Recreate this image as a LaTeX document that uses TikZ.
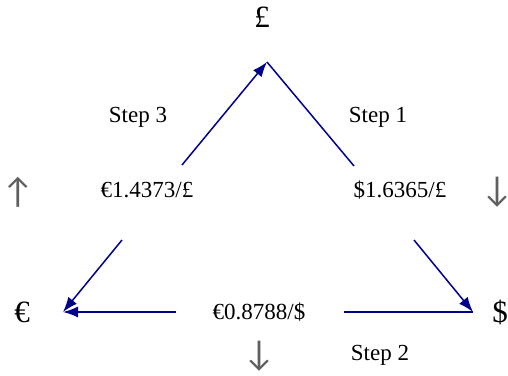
\documentclass[tikz,border=0pt]{standalone}
\usepackage{fontspec}
\setmainfont{Liberation Serif}
\newfontfamily\arrowfont{Lato}
\usetikzlibrary{arrows.meta}
\definecolor{navyline}{RGB}{0,0,139}
\definecolor{graytxt}{RGB}{95,95,95}
\begin{document}
\begin{tikzpicture}[x=1pt,y=-1pt,
  lbl/.style={font=\fontsize{23}{26}\selectfont, inner sep=0pt},
  cur/.style={font=\fontsize{31}{34}\selectfont, inner sep=0pt},
  dirarrow/.style={font=\arrowfont\fontsize{34}{36}\selectfont, inner sep=0pt, text=graytxt},
  conn/.style={draw=navyline, line width=1.5pt, -{Latex[length=15pt,width=11pt]}},
  plain/.style={draw=navyline, line width=1.5pt}]
\useasboundingbox (0,0) rectangle (508,375);
\node[cur] (gbp) at (262,17) {£};
\node[cur] (eur) at (22,312) {€};
\node[cur] (usd) at (500,312) {\$};
\coordinate (apex) at (267,62);
\coordinate (eurtip) at (63,312);
\coordinate (usdtip) at (473,312);
\coordinate (s3start) at (182,165);
\coordinate (s1end) at (354,166);
\coordinate (leftstart) at (122,240);
\coordinate (rightstart) at (414,240);
\coordinate (botleft) at (176,312);
\coordinate (botright) at (344,312);
\node[lbl] (step3) at (138,117) {Step 3};
\node[lbl] (step1) at (378,117) {Step 1};
\node[lbl] (step2) at (380,355) {Step 2};
\node[lbl] (r1) at (147,190) {€1.4373/£};
\node[lbl] (r2) at (400,190) {\$1.6365/£};
\node[lbl] (r3) at (259,312) {€0.8788/\$};
\node[dirarrow] (up1) at (18,192) {↑};
\node[dirarrow] (dn1) at (497,192) {↓};
\node[dirarrow] (dn2) at (259,356) {↓};
\draw[conn] (s3start) -- (apex);
\draw[plain] (apex) -- (s1end);
\draw[conn] (leftstart) -- (eurtip);
\draw[conn] (rightstart) -- (usdtip);
\draw[conn] (botleft) -- (eurtip);
\draw[plain] (botright) -- (usdtip);
\end{tikzpicture}
\end{document}
